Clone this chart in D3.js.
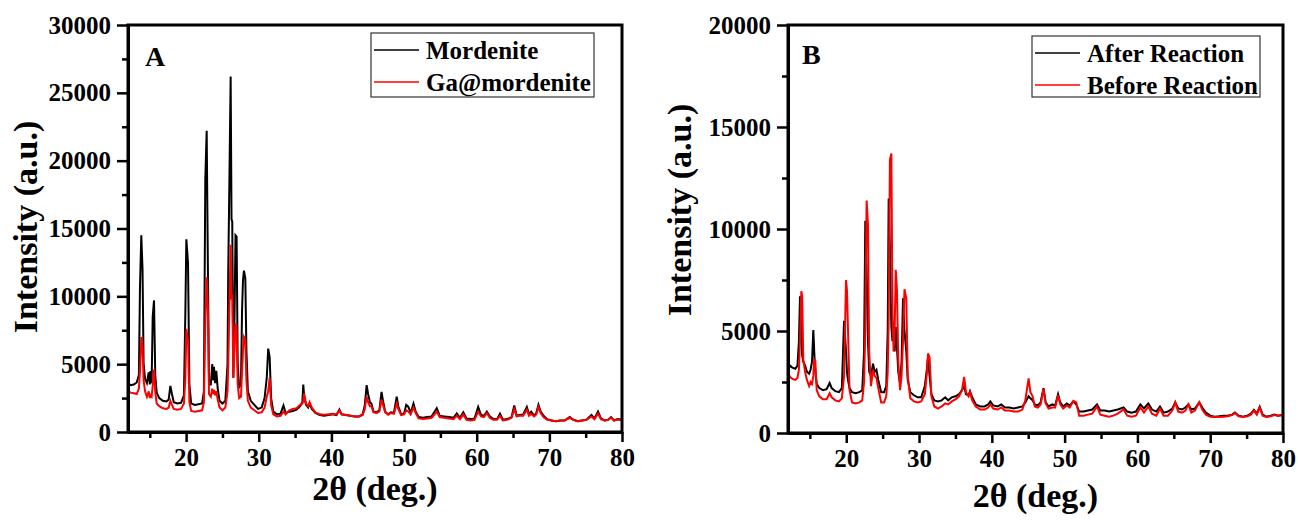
<!DOCTYPE html>
<html>
<head>
<meta charset="utf-8">
<script src="https://cdn.jsdelivr.net/npm/d3@7"></script>
<style>
  body { margin: 0; background: #fff; }
  svg text { font-family: "Liberation Serif", "Times New Roman", serif; font-weight: bold; }
</style>
</head>
<body>
<script>
// panel A: 2theta grid and the two patterns
var twoThetaA = [
  12.0, 12.4, 12.8, 13.2, 13.5, 13.65, 13.83, 14.0, 14.15, 14.35,
  14.6, 14.85, 15.0, 15.1, 15.25, 15.4, 15.58, 15.75, 15.95, 16.3,
  16.8, 17.3, 17.6, 17.83, 18.05, 18.3, 18.8, 19.3, 19.7, 19.9,
  20.03, 20.26, 20.45, 20.7, 21.2, 21.7, 22.2, 22.45, 22.64, 22.83,
  23.0, 23.15, 23.4, 23.6, 23.75, 23.83, 24.0, 24.15, 24.35, 24.6,
  25.0, 25.4, 25.7, 25.8, 25.95, 26.13, 26.25, 26.35, 26.5, 26.65,
  26.8, 26.95, 27.1, 27.3, 27.55, 27.7, 27.83, 27.96, 28.15, 28.3,
  28.5, 28.9, 29.4, 29.9, 30.4, 30.8, 31.1, 31.3, 31.5, 31.7,
  32.0, 32.5, 33.0, 33.4, 33.7, 34.2, 34.7, 35.2, 35.7, 36.0,
  36.13, 36.25, 36.5, 36.8, 37.0, 37.3, 37.8, 38.4, 39.0, 39.6,
  40.2, 40.7, 41.1, 41.4, 42.0, 42.6, 43.2, 43.8, 44.3, 44.6,
  44.85, 45.05, 45.3, 45.5, 45.8, 46.2, 46.6, 46.9, 47.1, 47.4,
  47.8, 48.2, 48.6, 48.99, 49.2, 49.6, 50.0, 50.3, 50.6, 50.9,
  51.3, 51.6, 52.0, 52.6, 53.2, 53.8, 54.5, 54.9, 55.5, 56.2,
  56.8, 57.25, 57.7, 58.15, 58.6, 59.2, 59.7, 60.2, 60.6, 61.0,
  61.4, 61.8, 62.3, 62.8, 63.2, 63.6, 64.2, 64.8, 65.17, 65.5,
  65.9, 66.4, 66.9, 67.2, 67.5, 67.9, 68.2, 68.5, 68.8, 69.2,
  69.7, 70.3, 70.9, 71.5, 72.1, 72.8, 73.3, 73.9, 74.5, 75.1,
  75.8, 76.2, 76.7, 77.1, 77.6, 78.1, 78.5, 78.9, 79.4, 80.0
];
var mordenite = [
  3600, 3450, 3500, 3650, 4200, 10700, 14500, 12000, 5000, 3900,
  3600, 4400, 3500, 4500, 3600, 8500, 9700, 4200, 2900, 2500,
  2300, 2250, 2400, 3400, 2800, 2200, 2100, 2150, 2700, 9000,
  14200, 12500, 3500, 2100, 2000, 2050, 2100, 3000, 18600, 22200,
  12000, 3500, 3500, 5000, 3800, 4800, 3600, 4500, 3200, 2300,
  2100, 2300, 5000, 12000, 18200, 26200, 15700, 15500, 4000, 8000,
  14500, 14400, 5000, 3300, 3500, 9000, 11200, 11900, 11300, 6000,
  3000, 2300, 2000, 1700, 1800, 2500, 4000, 6150, 5500, 2500,
  1500, 1300, 1350, 1950, 1400, 1500, 1550, 1650, 1900, 2200,
  3500, 2600, 2000, 1800, 2100, 1700, 1400, 1250, 1200, 1250,
  1300, 1250, 1650, 1300, 1250, 1200, 1150, 1150, 1300, 2000,
  3450, 2800, 2200, 2100, 1500, 1450, 1600, 2950, 2300, 1500,
  1300, 1450, 1400, 2600, 1900, 1300, 1350, 2000, 1850, 1400,
  2100, 1500, 1100, 1050, 1100, 1150, 1750, 1200, 1150, 1100,
  1050, 1370, 1050, 1450, 1000, 950, 1000, 1850, 1250, 1200,
  1500, 1150, 950, 950, 1350, 900, 950, 1100, 1950, 1200,
  1250, 1300, 1850, 1300, 1500, 1200, 1400, 2000, 1500, 1200,
  950, 850, 800, 850, 850, 1100, 900, 800, 850, 900,
  1250, 1000, 1500, 1000, 850, 900, 1100, 850, 950, 900
];
var gaMordenite = [
  3000, 2900, 2850, 2800, 3200, 4500, 7000, 6200, 3800, 3000,
  2600, 3000, 2500, 2700, 2600, 3400, 4600, 3000, 2100, 1900,
  1750, 1700, 1800, 2300, 2000, 1700, 1650, 1700, 2100, 4000,
  7600, 6800, 2200, 1550, 1500, 1550, 1600, 2200, 8000, 11400,
  9000, 2800, 2600, 3200, 2800, 3100, 2700, 3000, 2400, 1800,
  1600, 1800, 3000, 5000, 9000, 13800, 10000, 10100, 4000, 6000,
  8000, 7500, 3500, 2500, 2600, 4500, 6000, 7000, 6800, 3800,
  2300, 1800, 1600, 1400, 1450, 1800, 2600, 3000, 4000, 2000,
  1300, 1150, 1200, 1500, 1300, 1600, 1700, 1750, 2000, 2100,
  2300, 2850, 2100, 1900, 2200, 1800, 1450, 1300, 1280, 1300,
  1350, 1300, 1600, 1300, 1250, 1200, 1150, 1150, 1250, 1700,
  2600, 2200, 1900, 1900, 1450, 1400, 1500, 2400, 2000, 1450,
  1300, 1400, 1350, 2100, 1700, 1250, 1300, 1600, 1500, 1300,
  1800, 1400, 1000, 950, 1000, 1050, 1500, 1100, 1050, 1000,
  950, 1200, 950, 1300, 900, 850, 900, 1500, 1150, 1100,
  1400, 1050, 900, 900, 1200, 850, 900, 1050, 1700, 1150,
  1200, 1200, 1650, 1200, 1350, 1150, 1300, 1850, 1400, 1100,
  900, 850, 800, 850, 850, 1050, 900, 800, 850, 900,
  1150, 950, 1350, 950, 850, 900, 1050, 850, 900, 900
];

// panel B: 2theta grid and the two patterns
var twoThetaB = [
  12.0, 12.3, 12.6, 13.0, 13.3, 13.5, 13.65, 13.83, 13.95, 14.1,
  14.35, 14.6, 14.9, 15.1, 15.3, 15.48, 15.6, 15.75, 15.95, 16.3,
  16.8, 17.3, 17.72, 18.0, 18.5, 19.0, 19.4, 19.7, 19.97, 20.1,
  20.24, 20.45, 20.8, 21.3, 21.8, 22.2, 22.45, 22.62, 22.8, 22.99,
  23.15, 23.4, 23.68, 23.9, 24.15, 24.4, 24.8, 25.2, 25.5, 25.7,
  25.83, 26.0, 26.2, 26.35, 26.5, 26.65, 26.8, 26.97, 27.15, 27.4,
  27.6, 27.8, 28.0, 28.25, 28.45, 28.8, 29.3, 29.8, 30.3, 30.8,
  31.1, 31.23, 31.45, 31.7, 32.1, 32.6, 33.1, 33.6, 34.0, 34.5,
  35.0, 35.5, 35.9, 36.2, 36.45, 36.8, 37.0, 37.3, 37.8, 38.4,
  39.0, 39.5, 39.8, 40.2, 40.8, 41.3, 41.8, 42.4, 43.0, 43.6,
  44.2, 44.6, 45.05, 45.3, 45.6, 45.9, 46.3, 46.7, 47.1, 47.4,
  47.8, 48.3, 48.7, 49.1, 49.4, 49.8, 50.3, 50.7, 51.2, 51.6,
  52.0, 52.6, 53.2, 53.8, 54.45, 54.9, 55.5, 56.1, 56.7, 57.3,
  58.1, 58.6, 59.2, 59.8, 60.4, 60.9, 61.5, 62.0, 62.6, 63.1,
  63.6, 64.2, 64.8, 65.2, 65.6, 66.1, 66.6, 67.0, 67.4, 67.9,
  68.5, 68.9, 69.4, 70.0, 70.6, 71.2, 71.8, 72.4, 73.0, 73.4,
  73.9, 74.5, 75.1, 75.6, 76.0, 76.4, 76.8, 77.2, 77.7, 78.3,
  78.8, 79.3, 80.0
];
var afterReaction = [
  3100, 3300, 3200, 3150, 3300, 4500, 6700, 5000, 3800, 3500,
  3300, 3000, 2900, 3100, 3500, 5050, 4000, 3000, 2400, 2200,
  2100, 2150, 2450, 2200, 2050, 2000, 2200, 5500, 4000, 3000,
  2600, 2200, 2000, 1950, 2000, 2100, 4000, 10400, 8000, 4500,
  3000, 2800, 3400, 3000, 3100, 2600, 2000, 2000, 2300, 5000,
  11500, 9000, 5200, 4500, 5200, 4000, 5200, 4200, 3000, 2400,
  3500, 6600, 5000, 4000, 2600, 2000, 1850, 1750, 1750, 2300,
  3200, 3700, 2800, 1900, 1600, 1550, 1600, 1750, 1600, 1750,
  1800, 1900, 2100, 2300, 1900, 1850, 2050, 1750, 1400, 1300,
  1300, 1400, 1550, 1350, 1300, 1400, 1250, 1250, 1200, 1250,
  1300, 1500, 1800, 1700, 1600, 1400, 1350, 1500, 2200, 1500,
  1300, 1400, 1350, 1900, 1500, 1300, 1450, 1350, 1550, 1400,
  1050, 1050, 1100, 1150, 1400, 1100, 1100, 1050, 1100, 1150,
  1250, 1050, 1000, 1050, 1400, 1200, 1450, 1150, 1050, 1300,
  1000, 1050, 1200, 1500, 1200, 1150, 1250, 1400, 1150, 1200,
  1500, 1250, 1000, 850, 800, 820, 850, 850, 900, 1000,
  850, 800, 850, 950, 1130, 950, 1290, 900, 800, 850,
  900, 850, 900
];
var beforeReaction = [
  2900, 2750, 2650, 2600, 2700, 3100, 4500, 6950, 6700, 3600,
  3000, 2600, 2300, 2500, 2400, 2800, 3600, 3550, 2100, 1800,
  1650, 1650, 1950, 1750, 1600, 1550, 1700, 2800, 7500, 7000,
  5100, 2100, 1500, 1450, 1500, 1600, 2500, 5000, 11400, 10200,
  4000, 2300, 3100, 2800, 2700, 2200, 1500, 1500, 1800, 3000,
  5500, 13400, 13700, 6000, 4000, 5000, 8000, 7000, 3500, 2100,
  2800, 4500, 7050, 6600, 2800, 1700, 1550, 1500, 1550, 1900,
  3000, 3900, 3700, 1800, 1300, 1200, 1300, 1450, 1400, 1550,
  1650, 1800, 2100, 2750, 2000, 1800, 2000, 1600, 1300, 1150,
  1150, 1250, 1400, 1200, 1150, 1250, 1100, 1100, 1050, 1050,
  1150, 1600, 2680, 2000, 1800, 1300, 1250, 1400, 2150, 1450,
  1200, 1250, 1250, 1850, 1400, 1200, 1350, 1250, 1580, 1500,
  850, 850, 900, 950, 1300, 900, 850, 800, 850, 950,
  1150, 850, 800, 850, 1250, 1000, 1300, 950, 850, 1200,
  850, 850, 1100, 1500, 1050, 1000, 1100, 1400, 1000, 1100,
  1500, 1150, 900, 800, 780, 780, 800, 820, 880, 980,
  820, 780, 820, 900, 1100, 900, 1250, 850, 780, 820,
  880, 850, 880
];

var xTicks = [20, 30, 40, 50, 60, 70, 80];
var xMinorTicks = [15, 25, 35, 45, 55, 65, 75];
var yTicksA = [0, 5000, 10000, 15000, 20000, 25000, 30000];
var yTicksB = [0, 5000, 10000, 15000, 20000];
var legendA = ["Mordenite", "Ga@mordenite"];
var legendB = ["After Reaction", "Before Reaction"];
var colors = ["#000000", "#ff0000"];

var svg = d3.select("body").append("svg")
    .attr("width", 1298).attr("height", 520);

function drawPanel(p) {
    var x = d3.scaleLinear().domain([12, 80]).range([0, p.w]);
    var y = d3.scaleLinear().domain([0, p.yMax]).range([p.h, 0]);

    var g = svg.append("g").attr("transform", "translate(" + p.left + "," + p.top + ")");

    g.append("clipPath").attr("id", "clip" + p.name)
        .append("rect").attr("width", p.w).attr("height", p.h);

    var line = d3.line()
        .x(function (d) { return x(d[0]); })
        .y(function (d) { return y(d[1]); });

    p.series.forEach(function (s, i) {
        g.append("path")
            .attr("clip-path", "url(#clip" + p.name + ")")
            .attr("d", line(d3.zip(p.xs, s)))
            .attr("fill", "none")
            .attr("stroke", colors[i])
            .attr("stroke-width", 2)
            .attr("stroke-linejoin", "miter");
    });

    // minor ticks first, then major ticks and labels
    var yMinor = d3.range(2500, p.yMax, 5000);
    g.append("g").call(d3.axisLeft(y).tickValues(yMinor).tickSize(6).tickSizeOuter(0).tickFormat(""))
        .call(styleAxis);
    g.append("g").attr("transform", "translate(0," + p.h + ")")
        .call(d3.axisBottom(x).tickValues(xMinorTicks).tickSize(6).tickSizeOuter(0).tickFormat(""))
        .call(styleAxis);

    g.append("g")
        .call(d3.axisLeft(y).tickValues(p.yTicks).tickSize(11).tickSizeOuter(0).tickPadding(6)
            .tickFormat(d3.format("d")))
        .call(styleAxis);
    g.append("g").attr("transform", "translate(0," + p.h + ")")
        .call(d3.axisBottom(x).tickValues(xTicks).tickSize(10).tickSizeOuter(0).tickPadding(6))
        .call(styleAxis);

    g.append("rect").attr("width", p.w).attr("height", p.h)
        .attr("fill", "none").attr("stroke", "#000").attr("stroke-width", 3);

    g.append("text").attr("x", p.labelX).attr("y", p.labelY)
        .attr("font-size", 28).text(p.name);

    // legend
    var lg = g.append("g").attr("transform", "translate(" + p.legX + "," + p.legY + ")");
    lg.append("rect").attr("width", p.legW).attr("height", p.legH)
        .attr("fill", "#fff").attr("stroke", "#333").attr("stroke-width", 1.2);
    p.legend.forEach(function (t, i) {
        var cy = 17 + i * 32;
        lg.append("line").attr("x1", 3).attr("x2", 48).attr("y1", cy).attr("y2", cy)
            .attr("stroke", colors[i]).attr("stroke-width", 1.6);
        lg.append("text").attr("x", 55).attr("y", cy + 9)
            .attr("font-size", 25).text(t);
    });

    // axis titles
    svg.append("text").attr("x", p.left + p.w / 2).attr("y", p.xTitleY)
        .attr("text-anchor", "middle").attr("font-size", 34).text("2θ (deg.)");
    svg.append("text")
        .attr("transform", "translate(" + p.yTitleX + "," + p.yTitleY + ") rotate(-90)")
        .attr("text-anchor", "middle").attr("font-size", 34).text("Intensity (a.u.)");
}

function styleAxis(sel) {
    sel.select(".domain").attr("stroke-width", 3);
    sel.selectAll(".tick line").attr("stroke-width", 2.5);
    sel.selectAll(".tick text")
        .attr("font-size", 25)
        .attr("font-family", "Liberation Serif, Times New Roman, serif")
        .attr("font-weight", "bold")
        .attr("fill", "#000");
}

drawPanel({
    name: "A", left: 128, top: 25, w: 494, h: 407, yMax: 30000,
    xs: twoThetaA, series: [mordenite, gaMordenite], yTicks: yTicksA,
    legend: legendA, legX: 243, legY: 8, legW: 223, legH: 64,
    labelX: 17, labelY: 41, xTitleY: 500, yTitleX: 37, yTitleY: 227
});
drawPanel({
    name: "B", left: 788, top: 25, w: 495, h: 408, yMax: 20000,
    xs: twoThetaB, series: [afterReaction, beforeReaction], yTicks: yTicksB,
    legend: legendB, legX: 244, legY: 11, legW: 228, legH: 61,
    labelX: 14, labelY: 39, xTitleY: 507, yTitleX: 691, yTitleY: 210
});
</script>
</body>
</html>
